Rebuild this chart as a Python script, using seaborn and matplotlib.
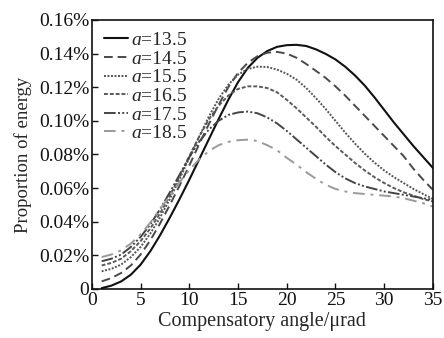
import numpy as np
import pandas as pd
import matplotlib
matplotlib.use("Agg")
import matplotlib.pyplot as plt
from matplotlib.ticker import FuncFormatter, MultipleLocator
import seaborn as sns

# ---- data (proportion of energy, in %) ----
angle = list(range(1, 36))

a_135 = [0.0005, 0.002, 0.0045, 0.0085, 0.0145, 0.0225, 0.032, 0.0425, 0.0535, 0.065,
         0.077, 0.089, 0.101, 0.1125, 0.123, 0.1315, 0.1375, 0.1415, 0.144, 0.145,
         0.1452, 0.1445, 0.1425, 0.1398, 0.1365, 0.1322, 0.127, 0.121, 0.114, 0.1065,
         0.099, 0.092, 0.085, 0.0785, 0.072]
a_145 = [0.0045, 0.0065, 0.0095, 0.014, 0.0205, 0.029, 0.039, 0.050, 0.0615, 0.0735,
         0.086, 0.098, 0.1095, 0.120, 0.1285, 0.1345, 0.1385, 0.1405, 0.141, 0.140,
         0.1375, 0.1338, 0.1297, 0.1255, 0.1205, 0.115, 0.109, 0.103, 0.097, 0.091,
         0.085, 0.079, 0.0715, 0.065, 0.059]
a_155 = [0.0105, 0.012, 0.0145, 0.019, 0.025, 0.033, 0.0425, 0.0535, 0.0655, 0.078,
         0.0905, 0.1025, 0.113, 0.1215, 0.1275, 0.1308, 0.1322, 0.132, 0.1305, 0.128,
         0.1245, 0.1195, 0.1135, 0.107, 0.100, 0.093, 0.0865, 0.0805, 0.0752, 0.0705,
         0.0665, 0.063, 0.0595, 0.0565, 0.0535]
a_165 = [0.014, 0.0155, 0.018, 0.0225, 0.0285, 0.036, 0.045, 0.0555, 0.067, 0.079,
         0.0905, 0.1008, 0.109, 0.115, 0.119, 0.1205, 0.1205, 0.1195, 0.117, 0.1125,
         0.1075, 0.102, 0.0965, 0.0905, 0.085, 0.080, 0.075, 0.0705, 0.0665, 0.063,
         0.060, 0.0575, 0.0555, 0.0535, 0.052]
a_175 = [0.0165, 0.018, 0.0205, 0.025, 0.031, 0.0385, 0.0475, 0.0575, 0.068, 0.0785,
         0.0875, 0.0948, 0.1, 0.1035, 0.105, 0.1055, 0.1045, 0.102, 0.0985, 0.094,
         0.089, 0.084, 0.079, 0.074, 0.0695, 0.0658, 0.063, 0.061, 0.0595, 0.058,
         0.057, 0.056, 0.055, 0.054, 0.053]
a_185 = [0.019, 0.0205, 0.023, 0.027, 0.0325, 0.0395, 0.0475, 0.0555, 0.0635, 0.0708,
         0.077, 0.082, 0.0855, 0.0875, 0.0885, 0.0888, 0.088, 0.0855, 0.0825, 0.078,
         0.074, 0.0695, 0.0655, 0.062, 0.0595, 0.058, 0.057, 0.0565, 0.056, 0.0555,
         0.055, 0.054, 0.0525, 0.051, 0.049]

labels = ["13.5", "14.5", "15.5", "16.5", "17.5", "18.5"]
series = [a_135, a_145, a_155, a_165, a_175, a_185]

# line look for each a value
colors = ["#111111", "#4a4a4a", "#555555", "#5a5a5a", "#444444", "#9a9a9a"]
dashes = [(None, None), (4.5, 2.5), (1, 0.8), (2, 1), (6, 1.2, 1, 1.2, 1, 1.2), (6, 3, 1.5, 3)]
widths = [1.5, 1.4, 1.4, 1.4, 1.4, 1.4]

sns.set_style("ticks")
plt.rcParams["font.family"] = ["Liberation Serif", "DejaVu Serif"]
plt.rcParams["mathtext.fontset"] = "custom"
plt.rcParams["mathtext.it"] = "Liberation Serif:italic"
plt.rcParams["mathtext.rm"] = "Liberation Serif"

fig = plt.figure(figsize=(4.44, 3.38), dpi=100)
ax = fig.add_axes([0.207, 0.145, 0.768, 0.796])

for lab, vals, c, d, w in zip(labels, series, colors, dashes, widths):
    df = pd.DataFrame({"angle": angle, "energy": vals})
    sns.lineplot(data=df, x="angle", y="energy", ax=ax, color=c, lw=w,
                 label=f"$a$=" + lab)
    line = ax.get_lines()[-1]
    if d[0] is not None:
        line.set_dashes(d)

ax.set_xlim(0, 35)
ax.set_ylim(0, 0.16)
ax.xaxis.set_major_locator(MultipleLocator(5))
ax.yaxis.set_major_locator(MultipleLocator(0.02))
ax.yaxis.set_major_formatter(FuncFormatter(lambda v, p: "0" if abs(v) < 1e-9 else f"{v:.2f}%"))
ax.tick_params(direction="in", length=4, width=1, labelsize=14, colors="#111111", pad=2)
for s in ax.spines.values():
    s.set_linewidth(1.2)
    s.set_color("#111111")

ax.set_xlabel("Compensatory angle/\u03bcrad", fontsize=14.5, labelpad=2)
ax.set_ylabel("Proportion of energy", fontsize=13.5, labelpad=5)

leg = ax.legend(loc="upper left", frameon=False, fontsize=14, handlelength=1.25,
                handletextpad=0.15, labelspacing=0.05, borderaxespad=0.3,
                borderpad=0.3)

fig.savefig("out.png", dpi=100)
